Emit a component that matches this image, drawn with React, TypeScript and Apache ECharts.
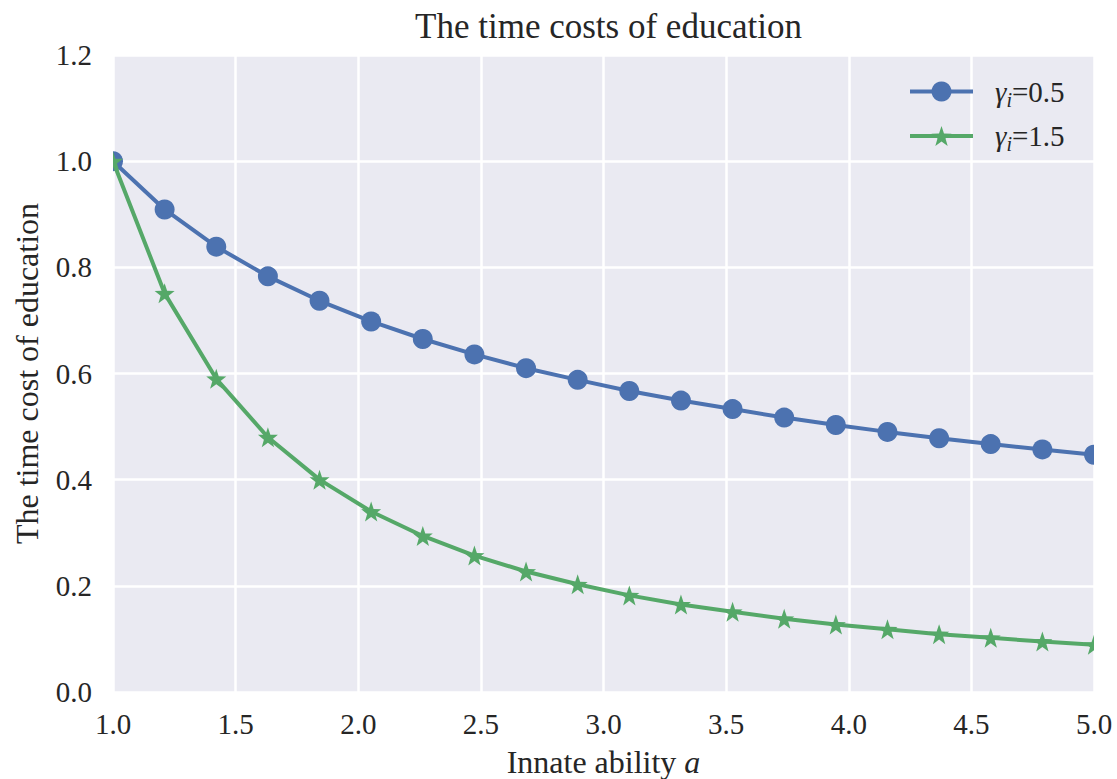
import React, { useEffect, useRef } from "react";
import * as echarts from "echarts";

const xValues = [1.0, 1.2105, 1.4211, 1.6316, 1.8421, 2.0526, 2.2632, 2.4737, 2.6842, 2.8947, 3.1053, 3.3158, 3.5263, 3.7368, 3.9474, 4.1579, 4.3684, 4.5789, 4.7895, 5.0];
const gamma05 = [1.0, 0.909, 0.839, 0.783, 0.737, 0.698, 0.665, 0.636, 0.61, 0.588, 0.567, 0.549, 0.533, 0.517, 0.503, 0.49, 0.478, 0.467, 0.457, 0.447];
const gamma15 = [1.0, 0.751, 0.59, 0.48, 0.4, 0.34, 0.294, 0.257, 0.227, 0.203, 0.182, 0.165, 0.151, 0.138, 0.127, 0.118, 0.109, 0.102, 0.095, 0.089];
const seriesNames = ["γi=0.5", "γi=1.5"];
const legendValues = ["0.5", "1.5"];

const FONT = "'Liberation Serif', 'Times New Roman', serif";
const TEXT = "#262626";
const STAR = "path://M0,-10 L2.35,-3.24 L9.51,-3.09 L3.8,1.24 L5.88,8.09 L0,4 L-5.88,8.09 L-3.8,1.24 L-9.51,-3.09 L-2.35,-3.24 Z";

export default function App() {
  const ref = useRef<HTMLDivElement>(null);
  useEffect(() => {
    document.body.style.margin = "0";
    const chart = echarts.init(ref.current!, undefined, { renderer: "svg" });
    const pairs = (ys: number[]) => xValues.map((x, i) => [x, ys[i]]);
    chart.setOption({
      animation: false,
      backgroundColor: "#ffffff",
      textStyle: { fontFamily: FONT, color: TEXT },
      title: {
        text: "The time costs of education",
        left: 603.5,
        top: 4,
        textAlign: "center",
        textStyle: { fontFamily: FONT, fontSize: 35, fontWeight: "normal", color: TEXT },
      },
      grid: {
        left: 113, right: 23, top: 55, bottom: 87,
        backgroundColor: "#EAEAF2", show: true, borderWidth: 0,
        outerBoundsMode: "none", containLabel: false,
      },
      legend: {
        left: 908,
        top: 77,
        padding: 0,
        orient: "vertical",
        itemWidth: 63,
        itemHeight: 25,
        itemGap: 12,
        data: seriesNames,
        lineStyle: { width: 4 },
        formatter: (name: string) => {
          const idx = seriesNames.indexOf(name);
          return "{g|γ}{s|i}{n|=" + legendValues[idx] + "}";
        },
        textStyle: {
          fontFamily: FONT,
          fontSize: 29,
          color: TEXT,
          padding: [0, 0, 0, 17],
          rich: {
            g: { fontFamily: FONT, fontSize: 29, fontStyle: "italic", color: TEXT, lineHeight: 36 },
            s: { fontFamily: FONT, fontSize: 20, fontStyle: "italic", color: TEXT, lineHeight: 20, verticalAlign: "bottom" },
            n: { fontFamily: FONT, fontSize: 29, color: TEXT, lineHeight: 36 },
          },
        },
      },
      xAxis: {
        type: "value",
        min: 1,
        max: 5,
        interval: 0.5,
        name: "Innate ability {i|a}",
        nameLocation: "middle",
        nameGap: 54,
        nameTextStyle: {
          fontFamily: FONT,
          fontSize: 32,
          color: TEXT,
          rich: { i: { fontFamily: FONT, fontSize: 32, fontStyle: "italic", color: TEXT } },
        },
        axisLine: { show: false },
        axisTick: { show: false },
        axisLabel: { fontFamily: FONT, fontSize: 29, color: TEXT, margin: 17, formatter: (v: number) => v.toFixed(1) },
        splitLine: { show: true, lineStyle: { color: "#ffffff", width: 2.5 } },
      },
      yAxis: {
        type: "value",
        min: 0,
        max: 1.2,
        interval: 0.2,
        name: "The time cost of education",
        nameLocation: "middle",
        nameGap: 70,
        nameRotate: 90,
        nameTextStyle: { fontFamily: FONT, fontSize: 32, color: TEXT },
        axisLine: { show: false },
        axisTick: { show: false },
        axisLabel: { fontFamily: FONT, fontSize: 29, color: TEXT, margin: 21, formatter: (v: number) => v.toFixed(1) },
        splitLine: { show: true, lineStyle: { color: "#ffffff", width: 2.5 } },
      },
      series: [
        {
          name: seriesNames[0],
          type: "line",
          data: pairs(gamma05),
          color: "#4C72B0",
          symbol: "circle",
          symbolSize: 20,
          showAllSymbol: true,
          lineStyle: { width: 4, color: "#4C72B0" },
          itemStyle: { color: "#4C72B0", borderWidth: 0 },
          z: 3,
        },
        {
          name: seriesNames[1],
          type: "line",
          data: pairs(gamma15),
          color: "#55A868",
          symbol: STAR,
          symbolSize: 20,
          showAllSymbol: true,
          lineStyle: { width: 4, color: "#55A868" },
          itemStyle: { color: "#55A868", borderWidth: 0 },
          z: 4,
        },
      ],
      graphic: [
        { type: "rect", z: 100, shape: { x: 100, y: 140, width: 13, height: 45 }, style: { fill: "#ffffff" } },
        { type: "rect", z: 100, shape: { x: 1094, y: 430, width: 23, height: 240 }, style: { fill: "#ffffff" } },
      ],
    });
    return () => chart.dispose();
  }, []);
  return <div ref={ref} style={{ position: "fixed", left: 0, top: 0, width: 1117, height: 779 }} />;
}
